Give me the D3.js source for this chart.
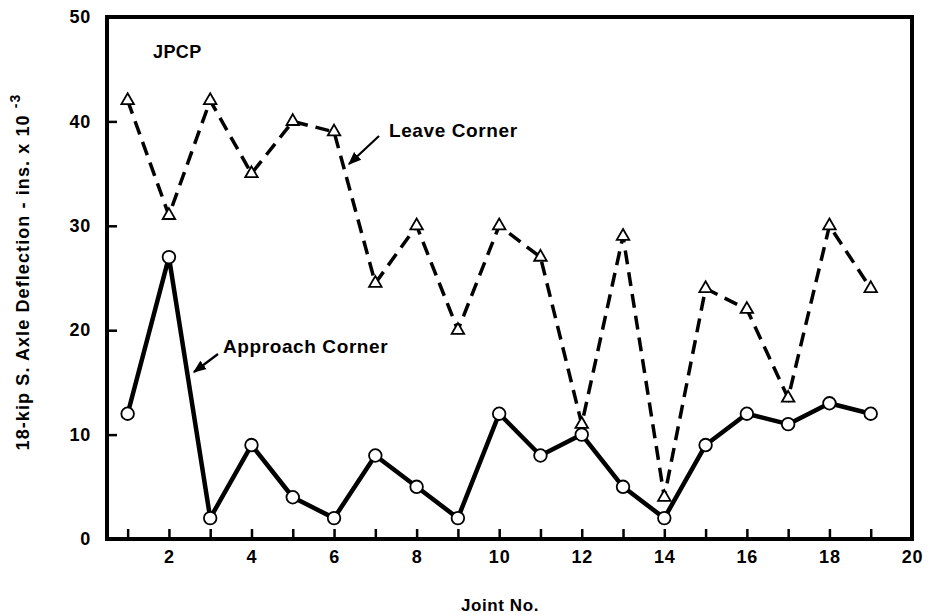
<!DOCTYPE html>
<html>
<head>
<meta charset="utf-8">
<script src="https://cdn.jsdelivr.net/npm/d3@7"></script>
<style>
  html, body { margin: 0; padding: 0; background: #fff; }
  svg { display: block; }
  text { font-family: "Liberation Sans", Arial, Helvetica, sans-serif; font-weight: bold; fill: #000; }
</style>
</head>
<body>
<svg id="chart" width="930" height="615"></svg>
<script>
// Joint numbers along the test section
const joints = [1, 2, 3, 4, 5, 6, 7, 8, 9, 10, 11, 12, 13, 14, 15, 16, 17, 18, 19];
// 18-kip single axle deflection (ins. x 10^-3)
const leaveCorner    = [42, 31, 42, 35, 40, 39, 24.5, 30, 20, 30, 27, 11, 29, 4, 24, 22, 13.5, 30, 24];
const approachCorner = [12, 27, 2, 9, 4, 2, 8, 5, 2, 12, 8, 10, 5, 2, 9, 12, 11, 13, 12];
// Axis ticks
const xTicks = [1, 2, 3, 4, 5, 6, 7, 8, 9, 10, 11, 12, 13, 14, 15, 16, 17, 18, 19, 20];
const xTickLabels = [2, 4, 6, 8, 10, 12, 14, 16, 18, 20];
const yTicks = [0, 10, 20, 30, 40, 50];

const svg = d3.select("#chart");
const plotLeft = 107, plotRight = 912, plotTop = 17, plotBottom = 539;

const x = d3.scaleLinear().domain([0.5, 20]).range([plotLeft, plotRight]);
const y = d3.scaleLinear().domain([0, 50]).range([plotBottom, plotTop]);

// Inward-pointing ticks with labels outside the frame
const xAxis = d3.axisBottom(x)
  .tickValues(xTicks)
  .tickSize(-10)
  .tickPadding(11)
  .tickFormat(d => xTickLabels.includes(d) ? d : "");
const gx = svg.append("g").attr("transform", `translate(0,${plotBottom})`).call(xAxis);

const yAxis = d3.axisLeft(y)
  .tickValues(yTicks)
  .tickSize(-10)
  .tickPadding(16)
  .tickFormat(d3.format("d"));
const gy = svg.append("g").attr("transform", `translate(${plotLeft},0)`).call(yAxis);

[gx, gy].forEach(g => {
  g.select(".domain").remove();
  g.selectAll(".tick line").attr("stroke", "#000").attr("stroke-width", 2.5);
  g.selectAll(".tick text")
    .style("font-size", "18px")
    .style("font-weight", "bold")
    .style("letter-spacing", "0.8px")
    .attr("fill", "#000");
});

// Frame
svg.append("rect")
  .attr("x", plotLeft).attr("y", plotTop)
  .attr("width", plotRight - plotLeft).attr("height", plotBottom - plotTop)
  .attr("fill", "none").attr("stroke", "#000").attr("stroke-width", 4);

// Series lines
const line = (vals) => d3.line()
  .x((d, i) => x(joints[i]))
  .y(d => y(d))(vals);

svg.append("path")
  .attr("d", line(leaveCorner))
  .attr("fill", "none").attr("stroke", "#000")
  .attr("stroke-width", 3.5)
  .attr("stroke-dasharray", "14,8");

svg.append("path")
  .attr("d", line(approachCorner))
  .attr("fill", "none").attr("stroke", "#000")
  .attr("stroke-width", 4.5)
  .attr("stroke-linejoin", "round");

// Markers
const tri = d3.symbol().type(d3.symbolTriangle).size(68);
svg.append("g").selectAll("path")
  .data(leaveCorner)
  .join("path")
  .attr("d", tri)
  .attr("transform", (d, i) => `translate(${x(joints[i])},${y(d)})`)
  .attr("fill", "#fff").attr("stroke", "#000").attr("stroke-width", 1.8);

svg.append("g").selectAll("circle")
  .data(approachCorner)
  .join("circle")
  .attr("cx", (d, i) => x(joints[i]))
  .attr("cy", d => y(d))
  .attr("r", 6.3)
  .attr("fill", "#fff").attr("stroke", "#000").attr("stroke-width", 1.8);

// Annotations
svg.append("defs").append("marker")
  .attr("id", "head")
  .attr("viewBox", "0 0 10 10")
  .attr("refX", 9).attr("refY", 5)
  .attr("markerWidth", 6).attr("markerHeight", 6)
  .attr("orient", "auto")
  .append("path").attr("d", "M0,1 L10,5 L0,9 Z").attr("fill", "#000");

svg.append("text").attr("x", 153).attr("y", 58)
  .style("font-size", "18px").style("letter-spacing", "0.4px").text("JPCP");

svg.append("text").attr("x", 389).attr("y", 137)
  .style("font-size", "19px").style("letter-spacing", "0.6px").text("Leave Corner");
svg.append("line")
  .attr("x1", 379).attr("y1", 136).attr("x2", 349).attr("y2", 164)
  .attr("stroke", "#000").attr("stroke-width", 2.2).attr("marker-end", "url(#head)");

svg.append("text").attr("x", 223).attr("y", 353)
  .style("font-size", "19px").style("letter-spacing", "0.6px").text("Approach Corner");
svg.append("line")
  .attr("x1", 218).attr("y1", 354).attr("x2", 194).attr("y2", 372)
  .attr("stroke", "#000").attr("stroke-width", 2.2).attr("marker-end", "url(#head)");

// Axis titles
svg.append("text")
  .attr("x", 500).attr("y", 611)
  .attr("text-anchor", "middle")
  .style("font-size", "17px").style("letter-spacing", "0.6px")
  .text("Joint No.");

const yTitle = svg.append("text")
  .attr("transform", "translate(29,272) rotate(-90)")
  .attr("text-anchor", "middle")
  .style("font-size", "18px").style("letter-spacing", "1.1px");
yTitle.append("tspan").text("18-kip S. Axle Deflection - ins. x 10 ");
yTitle.append("tspan").attr("dy", -9).style("font-size", "14px").text(" -3");
</script>
</body>
</html>
